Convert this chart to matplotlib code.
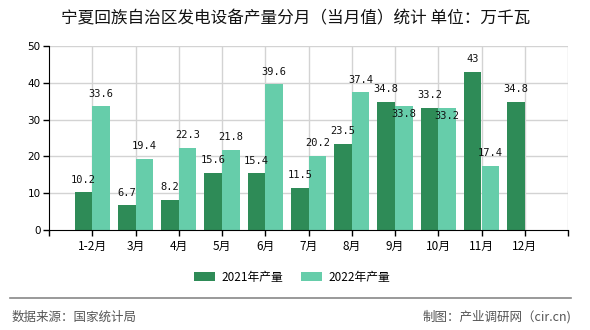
import matplotlib
matplotlib.use("Agg")
import matplotlib.pyplot as plt
import numpy as np
from matplotlib.patches import Patch

plt.rcParams['font.family'] = ['Noto Sans CJK SC', 'DejaVu Sans']

title = "宁夏回族自治区发电设备产量分月（当月值）统计 单位：万千瓦"
months = ["1-2月", "3月", "4月", "5月", "6月", "7月", "8月", "9月", "10月", "11月", "12月"]
series_names = ["2021年产量", "2022年产量"]
values_2021 = [10.2, 6.7, 8.2, 15.6, 15.4, 11.5, 23.5, 34.8, 33.2, 43, 34.8]
values_2022 = [33.6, 19.4, 22.3, 21.8, 39.6, 20.2, 37.4, 33.8, 33.2, 17.4, None]
yticks = [0, 10, 20, 30, 40, 50]
source_text = "数据来源：国家统计局"
credit_text = "制图：产业调研网（cir.cn)"

colors = ["#2e8b57", "#66cdaa"]
grid_color = "#d3d3d3"

fig = plt.figure(figsize=(5.9, 3.3), dpi=100)
ax = fig.add_axes([49/590, 1-230/330, (568-49)/590, (230-46)/330])

x = np.arange(len(months))
w = 0.405
# labels that sit below the bar top (overlap avoidance in the original)
below = {(1, 7), (1, 8)}

for s, (vals, col) in enumerate(zip([values_2021, values_2022], colors)):
    xs = [xi for xi, v in zip(x, vals) if v is not None]
    vs = [v for v in vals if v is not None]
    off = -w/2 if s == 0 else w/2
    ax.bar(np.array(xs) + off, vs, width=w, color=col, zorder=3, linewidth=0)
    for xi, v in zip(xs, vs):
        txt = f"{v:g}"
        dy = -6 if (s, xi) in below else 9
        ax.annotate(txt, (xi + off, v), xytext=(0, dy), textcoords="offset points",
                    ha="center", va="center", fontsize=7.5, family="DejaVu Sans Mono",
                    color="#111111", zorder=4)

ax.set_xlim(-1, len(months))
ax.set_ylim(0, 50)
ax.set_yticks(yticks)
ax.set_yticklabels([str(t) for t in yticks], fontsize=7.5, family="DejaVu Sans")
ax.set_xticks(x)
ax.set_xticklabels(months, fontsize=8.5)
ax.tick_params(axis="both", length=4, width=1, color="black", pad=2)
ax.tick_params(axis="x", pad=3)
ax.set_xticks([-1, len(months)], minor=True)
ax.tick_params(axis="x", which="minor", length=4, width=1)

for xi in list(x) + [len(months)]:
    ax.axvline(xi, color=grid_color, lw=1, zorder=1)
for yt in yticks[1:]:
    ax.axhline(yt, color=grid_color, lw=1, zorder=1)

for sp in ["top", "right"]:
    ax.spines[sp].set_visible(False)
ax.spines["left"].set_color("black")
ax.spines["bottom"].set_color("black")
ax.spines["left"].set_zorder(5)
ax.spines["bottom"].set_zorder(5)

fig.text(296/590, 1-19/330, title, ha="center", va="center", fontsize=12, color="#111111")

handles = [Patch(facecolor=c, edgecolor="none") for c in colors]
fig.legend(handles, series_names, loc="center", bbox_to_anchor=(292/590, 1-277/330),
           ncol=2, frameon=False, fontsize=8.5, handlelength=1.8, handleheight=0.75,
           handletextpad=0.5, columnspacing=1.5)

fig.add_artist(plt.Line2D([10/590, 571/590], [1-298/330, 1-298/330], color="#888888", lw=1.2))
fig.text(12/590, 1-317/330, source_text, ha="left", va="center", fontsize=9, color="#555555")
fig.text(571/590, 1-317/330, credit_text, ha="right", va="center", fontsize=9, color="#555555")

fig.savefig("out.png", dpi=100)
